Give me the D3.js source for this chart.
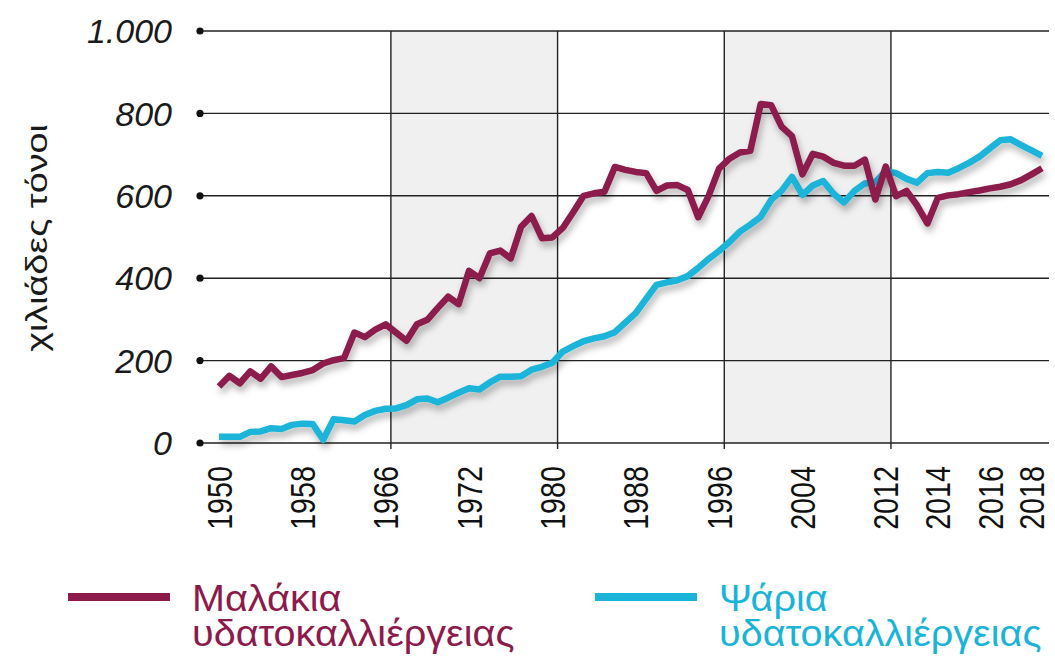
<!DOCTYPE html>
<meta charset="utf-8">
<style>
  body { margin: 0; background: #fff; }
  text { font-family: "Liberation Sans", Arial, sans-serif; }
</style>
<body>
<script src="https://d3js.org/d3.v7.min.js"></script>
<script>
  // τιμές σε χιλιάδες τόνους, ένα σημείο ανά κατηγορία του άξονα x
  var molluscs = [137, 163, 145, 174, 156, 186, 160, 165, 170, 177,
                  193, 201, 206, 268, 257, 275, 288, 268, 248, 288,
                  299, 328, 355, 337, 418, 400, 460, 467, 448, 525,
                  551, 497, 499, 522, 560, 600, 606, 610, 670, 663,
                  658, 655, 612, 625, 626, 614, 548, 600, 666, 690,
                  705, 709, 823, 820, 768, 745, 652, 702, 695, 680,
                  673, 673, 688, 591, 671, 599, 612, 577, 533, 595,
                  601, 604, 609, 613, 618, 622, 628, 638, 652, 667];
  var fish = [15, 15, 15, 27, 28, 36, 34, 44, 47, 46,
              8, 58, 55, 52, 68, 78, 83, 84, 92, 106,
              108, 99, 110, 122, 133, 130, 147, 161, 161, 162,
              178, 185, 195, 222, 235, 247, 254, 259, 269, 292,
              315, 350, 384, 390, 395, 405, 425, 447, 466, 488,
              513, 530, 549, 590, 612, 646, 602, 625, 636, 605,
              584, 612, 630, 633, 660, 655, 641, 632, 655, 658,
              656, 667, 680, 695, 715, 735, 737, 723, 710, 697];

  var tickLabels = ["1950", "1958", "1966", "1972", "1980", "1988", "1996", "2004", "2012", "2014", "2016", "2018"];
  var tickIndex = [0, 8, 16, 24, 32, 40, 48, 56, 64, 69, 74, 78];
  var yTicks = [0, 200, 400, 600, 800, 1000];
  var bands = [[16.5, 32.5], [48.5, 64.5]];
  var dividers = [16.5, 32.5, 48.5, 64.5];

  var legendItems = [
    {lines: ["Μαλάκια", "υδατοκαλλιέργειας"], color: "#8c1a4b"},
    {lines: ["Ψάρια", "υδατοκαλλιέργειας"], color: "#1ab4d8"}
  ];

  var svg = d3.select("body").append("svg")
      .attr("width", 1055)
      .attr("height", 657);

  var x = d3.scaleLinear().domain([0, molluscs.length - 1]).range([219, 1042]);
  var y = d3.scaleLinear().domain([0, 1000]).range([443, 31]);
  var gridLeft = 200, gridRight = 1049;

  var defs = svg.append("defs");
  var f = defs.append("filter").attr("id", "shadow")
      .attr("x", "-10%").attr("y", "-20%").attr("width", "120%").attr("height", "150%");
  f.append("feDropShadow")
      .attr("dx", 2).attr("dy", 5).attr("stdDeviation", 3.5)
      .attr("flood-color", "#000").attr("flood-opacity", 0.3);

  // γκρι ζώνες
  svg.selectAll(".band").data(bands).enter().append("rect")
      .attr("x", function(d) { return x(d[0]); })
      .attr("width", function(d) { return x(d[1]) - x(d[0]); })
      .attr("y", y(1000))
      .attr("height", y(0) - y(1000))
      .attr("fill", "#f0f0f0");

  // οριζόντιες γραμμές πλέγματος
  svg.selectAll(".hgrid").data(yTicks).enter().append("line")
      .attr("x1", gridLeft).attr("x2", gridRight)
      .attr("y1", function(d) { return y(d); })
      .attr("y2", function(d) { return y(d); })
      .attr("stroke", "#222").attr("stroke-width", 1.4);

  svg.selectAll(".dot").data(yTicks).enter().append("circle")
      .attr("cx", gridLeft).attr("cy", function(d) { return y(d); })
      .attr("r", 3.6).attr("fill", "#111");

  // κάθετες γραμμές
  svg.selectAll(".vgrid").data(dividers).enter().append("line")
      .attr("x1", function(d) { return x(d); })
      .attr("x2", function(d) { return x(d); })
      .attr("y1", y(1000)).attr("y2", y(0) + 6)
      .attr("stroke", "#222").attr("stroke-width", 1.4);

  // ετικέτες άξονα y
  svg.selectAll(".ylab").data(yTicks).enter().append("text")
      .attr("x", 172)
      .attr("y", function(d) { return y(d); })
      .attr("dy", "0.36em")
      .attr("text-anchor", "end")
      .style("font-size", "34px")
      .style("font-style", "italic")
      .attr("fill", "#1a1a1a")
      .text(function(d) { return d3.format(",")(d).replace(",", "."); });

  svg.append("text")
      .attr("transform", "translate(47,238) rotate(-90) scale(1.3,1)")
      .attr("text-anchor", "middle")
      .style("font-size", "29px")
      .attr("fill", "#1a1a1a")
      .text("χιλιάδες τόνοι");

  // ετικέτες άξονα x
  svg.selectAll(".xlab").data(tickLabels).enter().append("text")
      .attr("transform", function(d, i) {
        return "translate(" + x(tickIndex[i]) + ",466) rotate(-90) scale(0.82,1)";
      })
      .attr("text-anchor", "end")
      .attr("dy", "0.36em")
      .style("font-size", "35px")
      .attr("fill", "#111")
      .text(function(d) { return d; });

  // γραμμές δεδομένων
  var line = d3.line()
      .x(function(d, i) { return x(i); })
      .y(function(d) { return y(d); });

  var series = [
    {values: fish, color: legendItems[1].color},
    {values: molluscs, color: legendItems[0].color}
  ];

  svg.selectAll(".series").data(series).enter().append("path")
      .attr("d", function(d) { return line(d.values); })
      .attr("fill", "none")
      .attr("stroke", function(d) { return d.color; })
      .attr("stroke-width", 6.5)
      .attr("stroke-linejoin", "round")
      .attr("filter", "url(#shadow)");

  // υπόμνημα
  var legend = svg.selectAll(".legend").data(legendItems).enter().append("g")
      .attr("transform", function(d, i) { return "translate(" + (68 + i * 527) + ",597)"; });

  legend.append("line")
      .attr("x1", 0).attr("x2", 102)
      .attr("stroke", function(d) { return d.color; })
      .attr("stroke-width", 8);

  var lt = legend.append("text")
      .attr("fill", function(d) { return d.color; })
      .style("font-size", "37px")
      .attr("transform", "translate(124,0) scale(1.07,1)");

  lt.selectAll("tspan").data(function(d) { return d.lines; }).enter().append("tspan")
      .attr("x", 0)
      .attr("y", function(d, i) { return 14 + i * 35; })
      .text(function(d) { return d; });
</script>
</body>
